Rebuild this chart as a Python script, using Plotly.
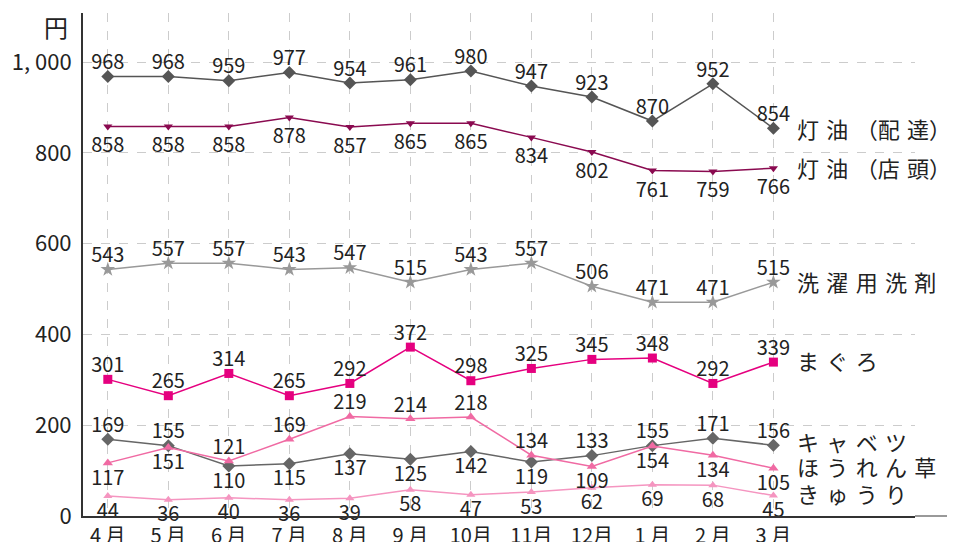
import plotly.graph_objects as go

months = ["4 月", "5 月", "6 月", "7 月", "8 月", "9 月", "10月", "11月", "12月", "1 月", "2 月", "3 月"]

names = ["灯油（配達）", "灯油（店頭）", "洗濯用洗剤", "まぐろ", "キャベツ", "ほうれん草", "きゅうり"]

kerosene_delivery = [968, 968, 959, 977, 954, 961, 980, 947, 923, 870, 952, 854]
kerosene_store = [858, 858, 858, 878, 857, 865, 865, 834, 802, 761, 759, 766]
detergent = [543, 557, 557, 543, 547, 515, 543, 557, 506, 471, 471, 515]
tuna = [301, 265, 314, 265, 292, 372, 298, 325, 345, 348, 292, 339]
cabbage = [169, 155, 110, 115, 137, 125, 142, 119, 133, 155, 171, 156]
spinach = [117, 151, 121, 169, 219, 214, 218, 134, 109, 154, 134, 105]
cucumber = [44, 36, 40, 36, 39, 58, 47, 53, 62, 69, 68, 45]

# label side per point: 'a' above, 'b' below
pos_kd = ["a"] * 12
pos_ks = ["b"] * 12
pos_det = ["a"] * 12
pos_tuna = ["a"] * 12
pos_cab = ["a", "a", "b", "b", "b", "b", "b", "b", "a", "a", "a", "a"]
pos_spin = ["b", "b", "a", "a", "a", "a", "a", "a", "b", "b", "b", "b"]
pos_cuc = ["b"] * 12

# (values, label sides, colour, marker, marker size, label gap below)
series = [
    (kerosene_delivery, pos_kd, "#555555", "diamond", 10, 9),
    (kerosene_store, pos_ks, "#8a0a50", "triangle-down", 8, 16),
    (detergent, pos_det, "#999999", "star", 11, 9),
    (tuna, pos_tuna, "#e5007f", "square", 9, 9),
    (cabbage, pos_cab, "#666666", "diamond", 10, 9),
    (spinach, pos_spin, "#f06aa3", "triangle-up", 9, 9),
    (cucumber, pos_cuc, "#f595c0", "triangle-up", 8, 9),
]

FONT = "Noto Sans CJK JP"
x = list(range(len(months)))

# page body has an 8px margin; size the figure so the plot lands where the reference has it
OFF = 8
W, H = 955 - OFF, 542 - OFF
ML, MR, MT, MB = 83 - OFF, 40, 13 - OFF, 26
PW = W - ML - MR
PH = H - MT - MB
X0, Y0 = 83, 516  # page px of plot-area left / bottom


def px_to_dom(px, py):
    return (px - X0) / PW, (Y0 - py) / PH


def spaced(s):
    out = ""
    for i, ch in enumerate(s):
        out += ch
        if i < len(s) - 1 and ch != "（" and s[i + 1] != "）":
            out += "\u2004"
    return out


fig = go.Figure()
for vals, pos, color, sym, size, gap in series:
    fig.add_trace(go.Scatter(
        x=x, y=vals, mode="lines+markers",
        line=dict(color=color, width=1.5),
        marker=dict(symbol=sym, size=size, color=color),
        showlegend=False, hoverinfo="skip",
    ))
for vals, pos, color, sym, size, gap in series:
    fig.add_trace(go.Scatter(
        x=x, y=vals, mode="markers+text",
        marker=dict(size=[2 if p == "a" else gap for p in pos], opacity=0, color=color),
        text=[str(v) for v in vals],
        textposition=["top center" if p == "a" else "bottom center" for p in pos],
        textfont=dict(family=FONT, size=20, color="#222222"),
        cliponaxis=False,
        showlegend=False,
    ))

# series labels at right
label_y = [128, 167, 281, 360, 441, 466, 493]
for name, yy in zip(names, label_y):
    ax, ay = px_to_dom(795, yy)
    fig.add_annotation(
        x=ax, y=ay, xref="paper", yref="paper", text=spaced(name),
        showarrow=False, font=dict(family=FONT, size=22, color="#222222"),
        xanchor="left", yanchor="middle",
    )

# unit label
ux, uy = px_to_dom(56, 26)
fig.add_annotation(x=ux, y=uy, xref="paper", yref="paper", text="円", showarrow=False,
                   font=dict(family=FONT, size=24, color="#222222"),
                   xanchor="center", yanchor="middle")

fig.update_layout(
    width=W, height=H,
    margin=dict(l=ML, r=MR, t=MT, b=MB),
    plot_bgcolor="white", paper_bgcolor="white",
    font=dict(family=FONT, color="#222222"),
)

fig.update_xaxes(
    range=[-0.41, 13.34], tickmode="array", tickvals=x, ticktext=months,
    showgrid=True, gridcolor="#cccccc", griddash="dash", gridwidth=1,
    showline=True, linecolor="#333333", linewidth=2, zeroline=False,
    ticks="", automargin=False, ticklabelstandoff=1,
    tickfont=dict(family=FONT, size=20, color="#222222"),
)
fig.update_yaxes(
    range=[0, 1108], tickvals=[0, 200, 400, 600, 800, 1000],
    ticktext=["0", "200", "400", "600", "800", "1, 000"],
    showgrid=True, gridcolor="#cccccc", griddash="dash", gridwidth=1,
    showline=True, linecolor="#333333", linewidth=2, zeroline=False,
    ticks="", ticklabelstandoff=5, automargin=False,
    tickfont=dict(family=FONT, size=22, color="#222222"),
)

# light extension of the baseline
fig.add_shape(type="line", xref="paper", yref="paper",
              x0=1.0, x1=(955 - X0) / PW, y0=0, y1=0,
              line=dict(color="#999999", width=2))

fig.write_html("out.html")
